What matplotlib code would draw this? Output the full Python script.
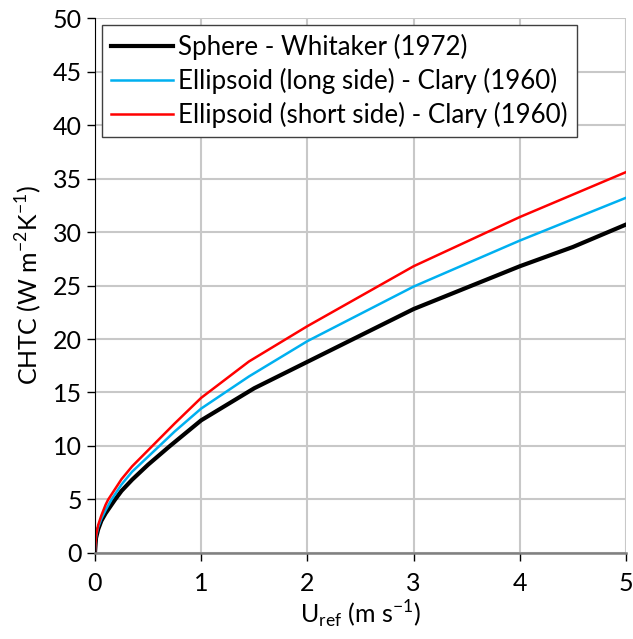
import matplotlib.pyplot as plt

plt.rcParams["font.family"] = ["Lato", "DejaVu Sans"]
plt.rcParams["mathtext.fontset"] = "custom"
plt.rcParams["mathtext.rm"] = "Lato"

# velocity (m/s) and CHTC values
u_sphere = [0.0, 0.01, 0.03, 0.06, 0.1, 0.19, 0.25, 0.35, 0.5, 0.7, 1.0, 1.5, 3.0, 4.0, 4.5, 5.0]
chtc_sphere = [0.0, 1.4, 2.2, 3.0, 3.7, 5.0, 5.8, 6.85, 8.25, 9.95, 12.4, 15.4, 22.8, 26.8, 28.6, 30.7]

u_long = [0.0, 0.01, 0.03, 0.06, 0.1, 0.156, 0.25, 0.35, 0.5, 0.75, 1.0, 1.45, 2.0, 3.0, 4.0, 5.0]
chtc_long = [0.0, 1.5, 2.4, 3.2, 4.0, 5.0, 6.4, 7.6, 9.0, 11.35, 13.5, 16.5, 19.8, 24.9, 29.2, 33.2]

u_short = [0.0, 0.01, 0.03, 0.06, 0.1, 0.125, 0.25, 0.35, 0.5, 0.75, 1.0, 1.45, 2.0, 3.0, 4.0, 5.0]
chtc_short = [0.0, 1.6, 2.6, 3.5, 4.5, 5.0, 6.9, 8.1, 9.6, 12.1, 14.5, 17.9, 21.2, 26.8, 31.4, 35.6]

labels = [
    "Sphere - Whitaker (1972)",
    "Ellipsoid (long side) - Clary (1960)",
    "Ellipsoid (short side) - Clary (1960)",
]

fig = plt.figure(figsize=(6.33, 6.39), dpi=100)
ax = fig.add_axes([0.150, 0.1346, 0.839, 0.8372])

ax.plot(u_sphere, chtc_sphere, color="black", lw=3, label=labels[0])
ax.plot(u_long, chtc_long, color="#00b0f0", lw=1.8, label=labels[1])
ax.plot(u_short, chtc_short, color="#ff0000", lw=1.8, label=labels[2])

ax.set_xlim(0, 5)
ax.set_ylim(0, 50)
ax.set_xticks(range(0, 6))
ax.set_yticks(range(0, 51, 5))
ax.grid(True, color="#c8c8c8", lw=1.5)
ax.set_axisbelow(True)

ax.spines["top"].set_visible(False)
ax.spines["right"].set_visible(False)
ax.spines["left"].set_color("black")
ax.spines["bottom"].set_color("#808080")
ax.spines["bottom"].set_linewidth(1.8)
ax.tick_params(axis="both", direction="out", length=6, width=1, colors="black",
               labelsize=18)
ax.tick_params(axis="x", pad=8)

ax.set_xlabel(r"U$_{\mathregular{ref}}$ (m s$^{\mathregular{-1}}$)", fontsize=18, labelpad=2)
ax.set_ylabel(r"CHTC (W m$^{\mathregular{-2}}$K$^{\mathregular{-1}}$)", fontsize=18, labelpad=6)

leg = ax.legend(loc="upper left", bbox_to_anchor=(0.013, 0.987), borderaxespad=0,
                fontsize=18.6, fancybox=False, framealpha=1, edgecolor="#404040",
                handlelength=2.4, handletextpad=0.2, labelspacing=0.3,
                borderpad=0.35)
leg.get_frame().set_linewidth(1)

fig.savefig("out.png", dpi=100)
